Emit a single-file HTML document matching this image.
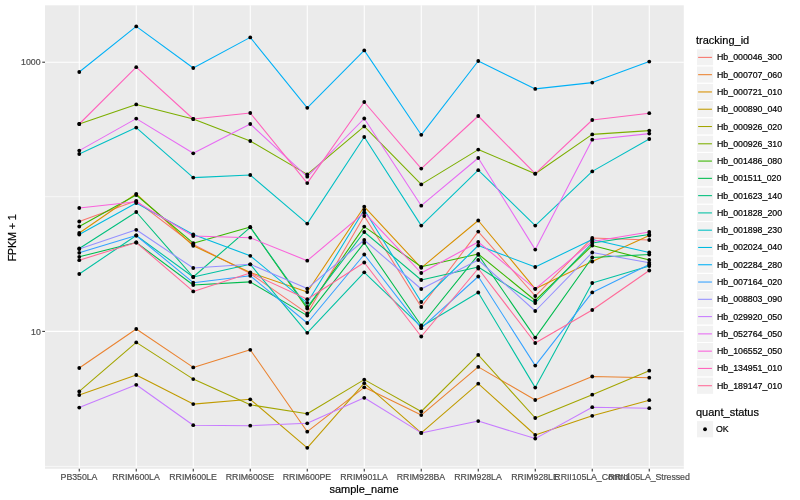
<!DOCTYPE html><html><head><meta charset="utf-8"><title>plot</title><style>
html,body{margin:0;padding:0;background:#fff;}
body{width:800px;height:500px;position:relative;overflow:hidden;font-family:"Liberation Sans",sans-serif;}
.t{position:absolute;white-space:nowrap;line-height:1;will-change:transform;-webkit-text-stroke:0.2px currentColor;}
.xt{font-size:8.8px;letter-spacing:-0.06px;color:#4D4D4D;transform:translateX(-50%);top:473.1px;}
.yt{font-size:8.8px;color:#4D4D4D;text-align:right;right:759.6px;}
.lt{font-size:11px;color:#000;left:696.2px;}
.ll{font-size:8.8px;color:#000;left:716.5px;}
</style></head><body>
<svg width="800" height="500" viewBox="0 0 800 500" style="position:absolute;left:0;top:0">
<rect x="45.0" y="5.3" width="638.8" height="463.5" fill="#EBEBEB"/>
<line x1="45.0" x2="683.8" y1="196.7" y2="196.7" stroke="#fff" stroke-width="0.6"/>
<line x1="45.0" x2="683.8" y1="466.4" y2="466.4" stroke="#fff" stroke-width="0.6"/>
<line x1="45.0" x2="683.8" y1="62.2" y2="62.2" stroke="#fff" stroke-width="1.07"/>
<line x1="45.0" x2="683.8" y1="331.4" y2="331.4" stroke="#fff" stroke-width="1.07"/>
<line x1="79.25" x2="79.25" y1="5.3" y2="468.8" stroke="#fff" stroke-width="1.07"/>
<line x1="136.25" x2="136.25" y1="5.3" y2="468.8" stroke="#fff" stroke-width="1.07"/>
<line x1="193.25" x2="193.25" y1="5.3" y2="468.8" stroke="#fff" stroke-width="1.07"/>
<line x1="250.25" x2="250.25" y1="5.3" y2="468.8" stroke="#fff" stroke-width="1.07"/>
<line x1="307.25" x2="307.25" y1="5.3" y2="468.8" stroke="#fff" stroke-width="1.07"/>
<line x1="364.25" x2="364.25" y1="5.3" y2="468.8" stroke="#fff" stroke-width="1.07"/>
<line x1="421.25" x2="421.25" y1="5.3" y2="468.8" stroke="#fff" stroke-width="1.07"/>
<line x1="478.25" x2="478.25" y1="5.3" y2="468.8" stroke="#fff" stroke-width="1.07"/>
<line x1="535.25" x2="535.25" y1="5.3" y2="468.8" stroke="#fff" stroke-width="1.07"/>
<line x1="592.25" x2="592.25" y1="5.3" y2="468.8" stroke="#fff" stroke-width="1.07"/>
<line x1="649.25" x2="649.25" y1="5.3" y2="468.8" stroke="#fff" stroke-width="1.07"/>
<polyline points="79.25,221.50 136.25,200.80 193.25,244.50 250.25,273.60 307.25,313.40 364.25,216.00 421.25,307.00 478.25,231.60 535.25,296.00 592.25,238.00 649.25,240.00" fill="none" stroke="#F8766D" stroke-width="1.07" stroke-linejoin="round"/>
<polyline points="79.25,368.00 136.25,329.00 193.25,367.40 250.25,349.80 307.25,431.70 364.25,387.30 421.25,415.10 478.25,366.90 535.25,400.00 592.25,376.50 649.25,377.70" fill="none" stroke="#EA8331" stroke-width="1.07" stroke-linejoin="round"/>
<polyline points="79.25,233.00 136.25,193.80 193.25,245.80 250.25,272.50 307.25,292.00 364.25,206.70 421.25,267.80 478.25,220.50 535.25,288.80 592.25,261.50 649.25,235.50" fill="none" stroke="#D89000" stroke-width="1.07" stroke-linejoin="round"/>
<polyline points="79.25,395.00 136.25,375.00 193.25,404.10 250.25,399.30 307.25,447.80 364.25,383.20 421.25,432.90 478.25,383.70 535.25,435.00 592.25,415.80 649.25,400.20" fill="none" stroke="#C09B00" stroke-width="1.07" stroke-linejoin="round"/>
<polyline points="79.25,391.40 136.25,342.40 193.25,379.10 250.25,404.80 307.25,413.70 364.25,379.60 421.25,411.50 478.25,354.90 535.25,418.00 592.25,394.70 649.25,370.70" fill="none" stroke="#A3A500" stroke-width="1.07" stroke-linejoin="round"/>
<polyline points="79.25,124.00 136.25,104.40 193.25,119.00 250.25,141.00 307.25,174.40 364.25,126.40 421.25,184.40 478.25,149.60 535.25,173.70 592.25,134.40 649.25,130.60" fill="none" stroke="#7CAE00" stroke-width="1.07" stroke-linejoin="round"/>
<polyline points="79.25,226.50 136.25,195.00 193.25,243.20 250.25,227.00 307.25,308.60 364.25,226.60 421.25,266.80 478.25,254.00 535.25,300.50 592.25,245.50 649.25,260.00" fill="none" stroke="#39B600" stroke-width="1.07" stroke-linejoin="round"/>
<polyline points="79.25,256.80 136.25,242.50 193.25,285.00 250.25,281.90 307.25,315.60 364.25,242.80 421.25,325.50 478.25,254.80 535.25,337.60 592.25,257.50 649.25,254.50" fill="none" stroke="#00BB4E" stroke-width="1.07" stroke-linejoin="round"/>
<polyline points="79.25,248.50 136.25,212.00 193.25,277.00 250.25,227.30 307.25,307.00 364.25,232.00 421.25,280.00 478.25,267.00 535.25,303.00 592.25,243.00 649.25,234.50" fill="none" stroke="#00BF7D" stroke-width="1.07" stroke-linejoin="round"/>
<polyline points="79.25,274.00 136.25,235.50 193.25,277.00 250.25,264.30 307.25,332.80 364.25,272.30 421.25,326.80 478.25,292.50 535.25,387.60 592.25,283.00 649.25,266.00" fill="none" stroke="#00C1A3" stroke-width="1.07" stroke-linejoin="round"/>
<polyline points="79.25,154.00 136.25,127.60 193.25,177.60 250.25,175.00 307.25,223.60 364.25,137.00 421.25,225.60 478.25,170.20 535.25,225.60 592.25,171.40 649.25,139.00" fill="none" stroke="#00BFC4" stroke-width="1.07" stroke-linejoin="round"/>
<polyline points="79.25,234.50 136.25,203.00 193.25,234.50 250.25,255.80 307.25,302.80 364.25,209.80 421.25,302.00 478.25,245.50 535.25,267.00 592.25,239.50 649.25,252.50" fill="none" stroke="#00BAE0" stroke-width="1.07" stroke-linejoin="round"/>
<polyline points="79.25,72.00 136.25,26.40 193.25,68.00 250.25,37.40 307.25,107.80 364.25,50.40 421.25,134.80 478.25,61.00 535.25,88.90 592.25,82.60 649.25,61.60" fill="none" stroke="#00B0F6" stroke-width="1.07" stroke-linejoin="round"/>
<polyline points="79.25,252.80 136.25,235.50 193.25,282.70 250.25,275.80 307.25,323.00 364.25,254.50 421.25,328.20 478.25,276.50 535.25,365.60 592.25,292.40 649.25,264.50" fill="none" stroke="#35A2FF" stroke-width="1.07" stroke-linejoin="round"/>
<polyline points="79.25,249.00 136.25,229.80 193.25,268.00 250.25,264.30 307.25,288.60 364.25,240.00 421.25,289.00 478.25,260.00 535.25,311.00 592.25,252.50 649.25,262.80" fill="none" stroke="#9590FF" stroke-width="1.07" stroke-linejoin="round"/>
<polyline points="79.25,407.60 136.25,384.80 193.25,425.20 250.25,425.70 307.25,423.30 364.25,397.80 421.25,432.90 478.25,421.10 535.25,438.60 592.25,407.20 649.25,408.20" fill="none" stroke="#C77CFF" stroke-width="1.07" stroke-linejoin="round"/>
<polyline points="79.25,150.60 136.25,118.60 193.25,153.30 250.25,124.00 307.25,176.70 364.25,118.50 421.25,205.70 478.25,158.00 535.25,249.60 592.25,139.70 649.25,133.60" fill="none" stroke="#E76BF3" stroke-width="1.07" stroke-linejoin="round"/>
<polyline points="79.25,208.00 136.25,201.80 193.25,236.00 250.25,237.70 307.25,260.70 364.25,212.70 421.25,273.00 478.25,242.00 535.25,288.80 592.25,241.50 649.25,232.00" fill="none" stroke="#FA62DB" stroke-width="1.07" stroke-linejoin="round"/>
<polyline points="79.25,124.00 136.25,67.20 193.25,119.00 250.25,113.00 307.25,183.10 364.25,102.00 421.25,168.60 478.25,116.00 535.25,173.70 592.25,120.00 649.25,113.20" fill="none" stroke="#FF62BC" stroke-width="1.07" stroke-linejoin="round"/>
<polyline points="79.25,260.20 136.25,242.50 193.25,291.40 250.25,273.00 307.25,299.20 364.25,262.50 421.25,336.50 478.25,268.50 535.25,343.00 592.25,310.00 649.25,270.50" fill="none" stroke="#FF6A98" stroke-width="1.07" stroke-linejoin="round"/>
<g fill="#000">
<circle cx="79.25" cy="221.50" r="1.9"/>
<circle cx="136.25" cy="200.80" r="1.9"/>
<circle cx="193.25" cy="244.50" r="1.9"/>
<circle cx="250.25" cy="273.60" r="1.9"/>
<circle cx="307.25" cy="313.40" r="1.9"/>
<circle cx="364.25" cy="216.00" r="1.9"/>
<circle cx="421.25" cy="307.00" r="1.9"/>
<circle cx="478.25" cy="231.60" r="1.9"/>
<circle cx="535.25" cy="296.00" r="1.9"/>
<circle cx="592.25" cy="238.00" r="1.9"/>
<circle cx="649.25" cy="240.00" r="1.9"/>
<circle cx="79.25" cy="368.00" r="1.9"/>
<circle cx="136.25" cy="329.00" r="1.9"/>
<circle cx="193.25" cy="367.40" r="1.9"/>
<circle cx="250.25" cy="349.80" r="1.9"/>
<circle cx="307.25" cy="431.70" r="1.9"/>
<circle cx="364.25" cy="387.30" r="1.9"/>
<circle cx="421.25" cy="415.10" r="1.9"/>
<circle cx="478.25" cy="366.90" r="1.9"/>
<circle cx="535.25" cy="400.00" r="1.9"/>
<circle cx="592.25" cy="376.50" r="1.9"/>
<circle cx="649.25" cy="377.70" r="1.9"/>
<circle cx="79.25" cy="233.00" r="1.9"/>
<circle cx="136.25" cy="193.80" r="1.9"/>
<circle cx="193.25" cy="245.80" r="1.9"/>
<circle cx="250.25" cy="272.50" r="1.9"/>
<circle cx="307.25" cy="292.00" r="1.9"/>
<circle cx="364.25" cy="206.70" r="1.9"/>
<circle cx="421.25" cy="267.80" r="1.9"/>
<circle cx="478.25" cy="220.50" r="1.9"/>
<circle cx="535.25" cy="288.80" r="1.9"/>
<circle cx="592.25" cy="261.50" r="1.9"/>
<circle cx="649.25" cy="235.50" r="1.9"/>
<circle cx="79.25" cy="395.00" r="1.9"/>
<circle cx="136.25" cy="375.00" r="1.9"/>
<circle cx="193.25" cy="404.10" r="1.9"/>
<circle cx="250.25" cy="399.30" r="1.9"/>
<circle cx="307.25" cy="447.80" r="1.9"/>
<circle cx="364.25" cy="383.20" r="1.9"/>
<circle cx="421.25" cy="432.90" r="1.9"/>
<circle cx="478.25" cy="383.70" r="1.9"/>
<circle cx="535.25" cy="435.00" r="1.9"/>
<circle cx="592.25" cy="415.80" r="1.9"/>
<circle cx="649.25" cy="400.20" r="1.9"/>
<circle cx="79.25" cy="391.40" r="1.9"/>
<circle cx="136.25" cy="342.40" r="1.9"/>
<circle cx="193.25" cy="379.10" r="1.9"/>
<circle cx="250.25" cy="404.80" r="1.9"/>
<circle cx="307.25" cy="413.70" r="1.9"/>
<circle cx="364.25" cy="379.60" r="1.9"/>
<circle cx="421.25" cy="411.50" r="1.9"/>
<circle cx="478.25" cy="354.90" r="1.9"/>
<circle cx="535.25" cy="418.00" r="1.9"/>
<circle cx="592.25" cy="394.70" r="1.9"/>
<circle cx="649.25" cy="370.70" r="1.9"/>
<circle cx="79.25" cy="124.00" r="1.9"/>
<circle cx="136.25" cy="104.40" r="1.9"/>
<circle cx="193.25" cy="119.00" r="1.9"/>
<circle cx="250.25" cy="141.00" r="1.9"/>
<circle cx="307.25" cy="174.40" r="1.9"/>
<circle cx="364.25" cy="126.40" r="1.9"/>
<circle cx="421.25" cy="184.40" r="1.9"/>
<circle cx="478.25" cy="149.60" r="1.9"/>
<circle cx="535.25" cy="173.70" r="1.9"/>
<circle cx="592.25" cy="134.40" r="1.9"/>
<circle cx="649.25" cy="130.60" r="1.9"/>
<circle cx="79.25" cy="226.50" r="1.9"/>
<circle cx="136.25" cy="195.00" r="1.9"/>
<circle cx="193.25" cy="243.20" r="1.9"/>
<circle cx="250.25" cy="227.00" r="1.9"/>
<circle cx="307.25" cy="308.60" r="1.9"/>
<circle cx="364.25" cy="226.60" r="1.9"/>
<circle cx="421.25" cy="266.80" r="1.9"/>
<circle cx="478.25" cy="254.00" r="1.9"/>
<circle cx="535.25" cy="300.50" r="1.9"/>
<circle cx="592.25" cy="245.50" r="1.9"/>
<circle cx="649.25" cy="260.00" r="1.9"/>
<circle cx="79.25" cy="256.80" r="1.9"/>
<circle cx="136.25" cy="242.50" r="1.9"/>
<circle cx="193.25" cy="285.00" r="1.9"/>
<circle cx="250.25" cy="281.90" r="1.9"/>
<circle cx="307.25" cy="315.60" r="1.9"/>
<circle cx="364.25" cy="242.80" r="1.9"/>
<circle cx="421.25" cy="325.50" r="1.9"/>
<circle cx="478.25" cy="254.80" r="1.9"/>
<circle cx="535.25" cy="337.60" r="1.9"/>
<circle cx="592.25" cy="257.50" r="1.9"/>
<circle cx="649.25" cy="254.50" r="1.9"/>
<circle cx="79.25" cy="248.50" r="1.9"/>
<circle cx="136.25" cy="212.00" r="1.9"/>
<circle cx="193.25" cy="277.00" r="1.9"/>
<circle cx="250.25" cy="227.30" r="1.9"/>
<circle cx="307.25" cy="307.00" r="1.9"/>
<circle cx="364.25" cy="232.00" r="1.9"/>
<circle cx="421.25" cy="280.00" r="1.9"/>
<circle cx="478.25" cy="267.00" r="1.9"/>
<circle cx="535.25" cy="303.00" r="1.9"/>
<circle cx="592.25" cy="243.00" r="1.9"/>
<circle cx="649.25" cy="234.50" r="1.9"/>
<circle cx="79.25" cy="274.00" r="1.9"/>
<circle cx="136.25" cy="235.50" r="1.9"/>
<circle cx="193.25" cy="277.00" r="1.9"/>
<circle cx="250.25" cy="264.30" r="1.9"/>
<circle cx="307.25" cy="332.80" r="1.9"/>
<circle cx="364.25" cy="272.30" r="1.9"/>
<circle cx="421.25" cy="326.80" r="1.9"/>
<circle cx="478.25" cy="292.50" r="1.9"/>
<circle cx="535.25" cy="387.60" r="1.9"/>
<circle cx="592.25" cy="283.00" r="1.9"/>
<circle cx="649.25" cy="266.00" r="1.9"/>
<circle cx="79.25" cy="154.00" r="1.9"/>
<circle cx="136.25" cy="127.60" r="1.9"/>
<circle cx="193.25" cy="177.60" r="1.9"/>
<circle cx="250.25" cy="175.00" r="1.9"/>
<circle cx="307.25" cy="223.60" r="1.9"/>
<circle cx="364.25" cy="137.00" r="1.9"/>
<circle cx="421.25" cy="225.60" r="1.9"/>
<circle cx="478.25" cy="170.20" r="1.9"/>
<circle cx="535.25" cy="225.60" r="1.9"/>
<circle cx="592.25" cy="171.40" r="1.9"/>
<circle cx="649.25" cy="139.00" r="1.9"/>
<circle cx="79.25" cy="234.50" r="1.9"/>
<circle cx="136.25" cy="203.00" r="1.9"/>
<circle cx="193.25" cy="234.50" r="1.9"/>
<circle cx="250.25" cy="255.80" r="1.9"/>
<circle cx="307.25" cy="302.80" r="1.9"/>
<circle cx="364.25" cy="209.80" r="1.9"/>
<circle cx="421.25" cy="302.00" r="1.9"/>
<circle cx="478.25" cy="245.50" r="1.9"/>
<circle cx="535.25" cy="267.00" r="1.9"/>
<circle cx="592.25" cy="239.50" r="1.9"/>
<circle cx="649.25" cy="252.50" r="1.9"/>
<circle cx="79.25" cy="72.00" r="1.9"/>
<circle cx="136.25" cy="26.40" r="1.9"/>
<circle cx="193.25" cy="68.00" r="1.9"/>
<circle cx="250.25" cy="37.40" r="1.9"/>
<circle cx="307.25" cy="107.80" r="1.9"/>
<circle cx="364.25" cy="50.40" r="1.9"/>
<circle cx="421.25" cy="134.80" r="1.9"/>
<circle cx="478.25" cy="61.00" r="1.9"/>
<circle cx="535.25" cy="88.90" r="1.9"/>
<circle cx="592.25" cy="82.60" r="1.9"/>
<circle cx="649.25" cy="61.60" r="1.9"/>
<circle cx="79.25" cy="252.80" r="1.9"/>
<circle cx="136.25" cy="235.50" r="1.9"/>
<circle cx="193.25" cy="282.70" r="1.9"/>
<circle cx="250.25" cy="275.80" r="1.9"/>
<circle cx="307.25" cy="323.00" r="1.9"/>
<circle cx="364.25" cy="254.50" r="1.9"/>
<circle cx="421.25" cy="328.20" r="1.9"/>
<circle cx="478.25" cy="276.50" r="1.9"/>
<circle cx="535.25" cy="365.60" r="1.9"/>
<circle cx="592.25" cy="292.40" r="1.9"/>
<circle cx="649.25" cy="264.50" r="1.9"/>
<circle cx="79.25" cy="249.00" r="1.9"/>
<circle cx="136.25" cy="229.80" r="1.9"/>
<circle cx="193.25" cy="268.00" r="1.9"/>
<circle cx="250.25" cy="264.30" r="1.9"/>
<circle cx="307.25" cy="288.60" r="1.9"/>
<circle cx="364.25" cy="240.00" r="1.9"/>
<circle cx="421.25" cy="289.00" r="1.9"/>
<circle cx="478.25" cy="260.00" r="1.9"/>
<circle cx="535.25" cy="311.00" r="1.9"/>
<circle cx="592.25" cy="252.50" r="1.9"/>
<circle cx="649.25" cy="262.80" r="1.9"/>
<circle cx="79.25" cy="407.60" r="1.9"/>
<circle cx="136.25" cy="384.80" r="1.9"/>
<circle cx="193.25" cy="425.20" r="1.9"/>
<circle cx="250.25" cy="425.70" r="1.9"/>
<circle cx="307.25" cy="423.30" r="1.9"/>
<circle cx="364.25" cy="397.80" r="1.9"/>
<circle cx="421.25" cy="432.90" r="1.9"/>
<circle cx="478.25" cy="421.10" r="1.9"/>
<circle cx="535.25" cy="438.60" r="1.9"/>
<circle cx="592.25" cy="407.20" r="1.9"/>
<circle cx="649.25" cy="408.20" r="1.9"/>
<circle cx="79.25" cy="150.60" r="1.9"/>
<circle cx="136.25" cy="118.60" r="1.9"/>
<circle cx="193.25" cy="153.30" r="1.9"/>
<circle cx="250.25" cy="124.00" r="1.9"/>
<circle cx="307.25" cy="176.70" r="1.9"/>
<circle cx="364.25" cy="118.50" r="1.9"/>
<circle cx="421.25" cy="205.70" r="1.9"/>
<circle cx="478.25" cy="158.00" r="1.9"/>
<circle cx="535.25" cy="249.60" r="1.9"/>
<circle cx="592.25" cy="139.70" r="1.9"/>
<circle cx="649.25" cy="133.60" r="1.9"/>
<circle cx="79.25" cy="208.00" r="1.9"/>
<circle cx="136.25" cy="201.80" r="1.9"/>
<circle cx="193.25" cy="236.00" r="1.9"/>
<circle cx="250.25" cy="237.70" r="1.9"/>
<circle cx="307.25" cy="260.70" r="1.9"/>
<circle cx="364.25" cy="212.70" r="1.9"/>
<circle cx="421.25" cy="273.00" r="1.9"/>
<circle cx="478.25" cy="242.00" r="1.9"/>
<circle cx="535.25" cy="288.80" r="1.9"/>
<circle cx="592.25" cy="241.50" r="1.9"/>
<circle cx="649.25" cy="232.00" r="1.9"/>
<circle cx="79.25" cy="124.00" r="1.9"/>
<circle cx="136.25" cy="67.20" r="1.9"/>
<circle cx="193.25" cy="119.00" r="1.9"/>
<circle cx="250.25" cy="113.00" r="1.9"/>
<circle cx="307.25" cy="183.10" r="1.9"/>
<circle cx="364.25" cy="102.00" r="1.9"/>
<circle cx="421.25" cy="168.60" r="1.9"/>
<circle cx="478.25" cy="116.00" r="1.9"/>
<circle cx="535.25" cy="173.70" r="1.9"/>
<circle cx="592.25" cy="120.00" r="1.9"/>
<circle cx="649.25" cy="113.20" r="1.9"/>
<circle cx="79.25" cy="260.20" r="1.9"/>
<circle cx="136.25" cy="242.50" r="1.9"/>
<circle cx="193.25" cy="291.40" r="1.9"/>
<circle cx="250.25" cy="273.00" r="1.9"/>
<circle cx="307.25" cy="299.20" r="1.9"/>
<circle cx="364.25" cy="262.50" r="1.9"/>
<circle cx="421.25" cy="336.50" r="1.9"/>
<circle cx="478.25" cy="268.50" r="1.9"/>
<circle cx="535.25" cy="343.00" r="1.9"/>
<circle cx="592.25" cy="310.00" r="1.9"/>
<circle cx="649.25" cy="270.50" r="1.9"/>
</g>
<line x1="79.25" x2="79.25" y1="468.8" y2="471.55" stroke="#333" stroke-width="1.07"/>
<line x1="136.25" x2="136.25" y1="468.8" y2="471.55" stroke="#333" stroke-width="1.07"/>
<line x1="193.25" x2="193.25" y1="468.8" y2="471.55" stroke="#333" stroke-width="1.07"/>
<line x1="250.25" x2="250.25" y1="468.8" y2="471.55" stroke="#333" stroke-width="1.07"/>
<line x1="307.25" x2="307.25" y1="468.8" y2="471.55" stroke="#333" stroke-width="1.07"/>
<line x1="364.25" x2="364.25" y1="468.8" y2="471.55" stroke="#333" stroke-width="1.07"/>
<line x1="421.25" x2="421.25" y1="468.8" y2="471.55" stroke="#333" stroke-width="1.07"/>
<line x1="478.25" x2="478.25" y1="468.8" y2="471.55" stroke="#333" stroke-width="1.07"/>
<line x1="535.25" x2="535.25" y1="468.8" y2="471.55" stroke="#333" stroke-width="1.07"/>
<line x1="592.25" x2="592.25" y1="468.8" y2="471.55" stroke="#333" stroke-width="1.07"/>
<line x1="649.25" x2="649.25" y1="468.8" y2="471.55" stroke="#333" stroke-width="1.07"/>
<line x1="42.25" x2="45.0" y1="62.2" y2="62.2" stroke="#333" stroke-width="1.07"/>
<line x1="42.25" x2="45.0" y1="331.4" y2="331.4" stroke="#333" stroke-width="1.07"/>
<rect x="696.4" y="48.75" width="17.28" height="17.28" fill="#F2F2F2" stroke="#fff" stroke-width="1.07"/>
<line x1="698.13" x2="711.95" y1="57.39" y2="57.39" stroke="#F8766D" stroke-width="1.07"/>
<rect x="696.4" y="66.03" width="17.28" height="17.28" fill="#F2F2F2" stroke="#fff" stroke-width="1.07"/>
<line x1="698.13" x2="711.95" y1="74.67" y2="74.67" stroke="#EA8331" stroke-width="1.07"/>
<rect x="696.4" y="83.31" width="17.28" height="17.28" fill="#F2F2F2" stroke="#fff" stroke-width="1.07"/>
<line x1="698.13" x2="711.95" y1="91.95" y2="91.95" stroke="#D89000" stroke-width="1.07"/>
<rect x="696.4" y="100.59" width="17.28" height="17.28" fill="#F2F2F2" stroke="#fff" stroke-width="1.07"/>
<line x1="698.13" x2="711.95" y1="109.23" y2="109.23" stroke="#C09B00" stroke-width="1.07"/>
<rect x="696.4" y="117.87" width="17.28" height="17.28" fill="#F2F2F2" stroke="#fff" stroke-width="1.07"/>
<line x1="698.13" x2="711.95" y1="126.51" y2="126.51" stroke="#A3A500" stroke-width="1.07"/>
<rect x="696.4" y="135.15" width="17.28" height="17.28" fill="#F2F2F2" stroke="#fff" stroke-width="1.07"/>
<line x1="698.13" x2="711.95" y1="143.79" y2="143.79" stroke="#7CAE00" stroke-width="1.07"/>
<rect x="696.4" y="152.43" width="17.28" height="17.28" fill="#F2F2F2" stroke="#fff" stroke-width="1.07"/>
<line x1="698.13" x2="711.95" y1="161.07" y2="161.07" stroke="#39B600" stroke-width="1.07"/>
<rect x="696.4" y="169.71" width="17.28" height="17.28" fill="#F2F2F2" stroke="#fff" stroke-width="1.07"/>
<line x1="698.13" x2="711.95" y1="178.35" y2="178.35" stroke="#00BB4E" stroke-width="1.07"/>
<rect x="696.4" y="186.99" width="17.28" height="17.28" fill="#F2F2F2" stroke="#fff" stroke-width="1.07"/>
<line x1="698.13" x2="711.95" y1="195.63" y2="195.63" stroke="#00BF7D" stroke-width="1.07"/>
<rect x="696.4" y="204.27" width="17.28" height="17.28" fill="#F2F2F2" stroke="#fff" stroke-width="1.07"/>
<line x1="698.13" x2="711.95" y1="212.91" y2="212.91" stroke="#00C1A3" stroke-width="1.07"/>
<rect x="696.4" y="221.55" width="17.28" height="17.28" fill="#F2F2F2" stroke="#fff" stroke-width="1.07"/>
<line x1="698.13" x2="711.95" y1="230.19" y2="230.19" stroke="#00BFC4" stroke-width="1.07"/>
<rect x="696.4" y="238.83" width="17.28" height="17.28" fill="#F2F2F2" stroke="#fff" stroke-width="1.07"/>
<line x1="698.13" x2="711.95" y1="247.47" y2="247.47" stroke="#00BAE0" stroke-width="1.07"/>
<rect x="696.4" y="256.11" width="17.28" height="17.28" fill="#F2F2F2" stroke="#fff" stroke-width="1.07"/>
<line x1="698.13" x2="711.95" y1="264.75" y2="264.75" stroke="#00B0F6" stroke-width="1.07"/>
<rect x="696.4" y="273.39" width="17.28" height="17.28" fill="#F2F2F2" stroke="#fff" stroke-width="1.07"/>
<line x1="698.13" x2="711.95" y1="282.03" y2="282.03" stroke="#35A2FF" stroke-width="1.07"/>
<rect x="696.4" y="290.67" width="17.28" height="17.28" fill="#F2F2F2" stroke="#fff" stroke-width="1.07"/>
<line x1="698.13" x2="711.95" y1="299.31" y2="299.31" stroke="#9590FF" stroke-width="1.07"/>
<rect x="696.4" y="307.95" width="17.28" height="17.28" fill="#F2F2F2" stroke="#fff" stroke-width="1.07"/>
<line x1="698.13" x2="711.95" y1="316.59" y2="316.59" stroke="#C77CFF" stroke-width="1.07"/>
<rect x="696.4" y="325.23" width="17.28" height="17.28" fill="#F2F2F2" stroke="#fff" stroke-width="1.07"/>
<line x1="698.13" x2="711.95" y1="333.87" y2="333.87" stroke="#E76BF3" stroke-width="1.07"/>
<rect x="696.4" y="342.51" width="17.28" height="17.28" fill="#F2F2F2" stroke="#fff" stroke-width="1.07"/>
<line x1="698.13" x2="711.95" y1="351.15" y2="351.15" stroke="#FA62DB" stroke-width="1.07"/>
<rect x="696.4" y="359.79" width="17.28" height="17.28" fill="#F2F2F2" stroke="#fff" stroke-width="1.07"/>
<line x1="698.13" x2="711.95" y1="368.43" y2="368.43" stroke="#FF62BC" stroke-width="1.07"/>
<rect x="696.4" y="377.07" width="17.28" height="17.28" fill="#F2F2F2" stroke="#fff" stroke-width="1.07"/>
<line x1="698.13" x2="711.95" y1="385.71" y2="385.71" stroke="#FF6A98" stroke-width="1.07"/>
<rect x="696.4" y="420.6" width="17.28" height="17.28" fill="#F2F2F2" stroke="#fff" stroke-width="1.07"/>
<circle cx="705.04" cy="429.24" r="1.9" fill="#000"/>
</svg>
<div class="t xt" style="left:79.25px">PB350LA</div>
<div class="t xt" style="left:136.25px">RRIM600LA</div>
<div class="t xt" style="left:193.25px">RRIM600LE</div>
<div class="t xt" style="left:250.25px">RRIM600SE</div>
<div class="t xt" style="left:307.25px">RRIM600PE</div>
<div class="t xt" style="left:364.25px">RRIM901LA</div>
<div class="t xt" style="left:421.25px">RRIM928BA</div>
<div class="t xt" style="left:478.25px">RRIM928LA</div>
<div class="t xt" style="left:535.25px">RRIM928LE</div>
<div class="t xt" style="left:592.25px">RRII105LA_Control</div>
<div class="t xt" style="left:649.25px">RRII105LA_Stressed</div>
<div class="t yt" style="top:57.80px;right:759.9px">1000</div>
<div class="t yt" style="top:328.00px;right:759.6px">10</div>
<div class="t" style="font-size:11px;left:363.6px;top:484px;transform:translateX(-50%)">sample_name</div>
<div style="position:absolute;left:0;top:180px;width:30px;height:120px;will-change:transform"><div class="t" style="will-change:auto;font-size:11px;letter-spacing:-0.25px;left:12px;top:57.6px;transform:translate(-50%,-50%) rotate(-90deg)">FPKM + 1</div></div>
<div class="t lt" style="top:34.5px">tracking_id</div>
<div class="t ll" style="top:53.39px">Hb_000046_300</div>
<div class="t ll" style="top:70.67px">Hb_000707_060</div>
<div class="t ll" style="top:87.95px">Hb_000721_010</div>
<div class="t ll" style="top:105.23px">Hb_000890_040</div>
<div class="t ll" style="top:122.51px">Hb_000926_020</div>
<div class="t ll" style="top:139.79px">Hb_000926_310</div>
<div class="t ll" style="top:157.07px">Hb_001486_080</div>
<div class="t ll" style="top:174.35px">Hb_001511_020</div>
<div class="t ll" style="top:191.63px">Hb_001623_140</div>
<div class="t ll" style="top:208.91px">Hb_001828_200</div>
<div class="t ll" style="top:226.19px">Hb_001898_230</div>
<div class="t ll" style="top:243.47px">Hb_002024_040</div>
<div class="t ll" style="top:260.75px">Hb_002284_280</div>
<div class="t ll" style="top:278.03px">Hb_007164_020</div>
<div class="t ll" style="top:295.31px">Hb_008803_090</div>
<div class="t ll" style="top:312.59px">Hb_029920_050</div>
<div class="t ll" style="top:329.87px">Hb_052764_050</div>
<div class="t ll" style="top:347.15px">Hb_106552_050</div>
<div class="t ll" style="top:364.43px">Hb_134951_010</div>
<div class="t ll" style="top:381.71px">Hb_189147_010</div>
<div class="t lt" style="top:407.4px;left:695.6px">quant_status</div>
<div class="t ll" style="top:425.34px;left:715.9px">OK</div>
</body></html>
